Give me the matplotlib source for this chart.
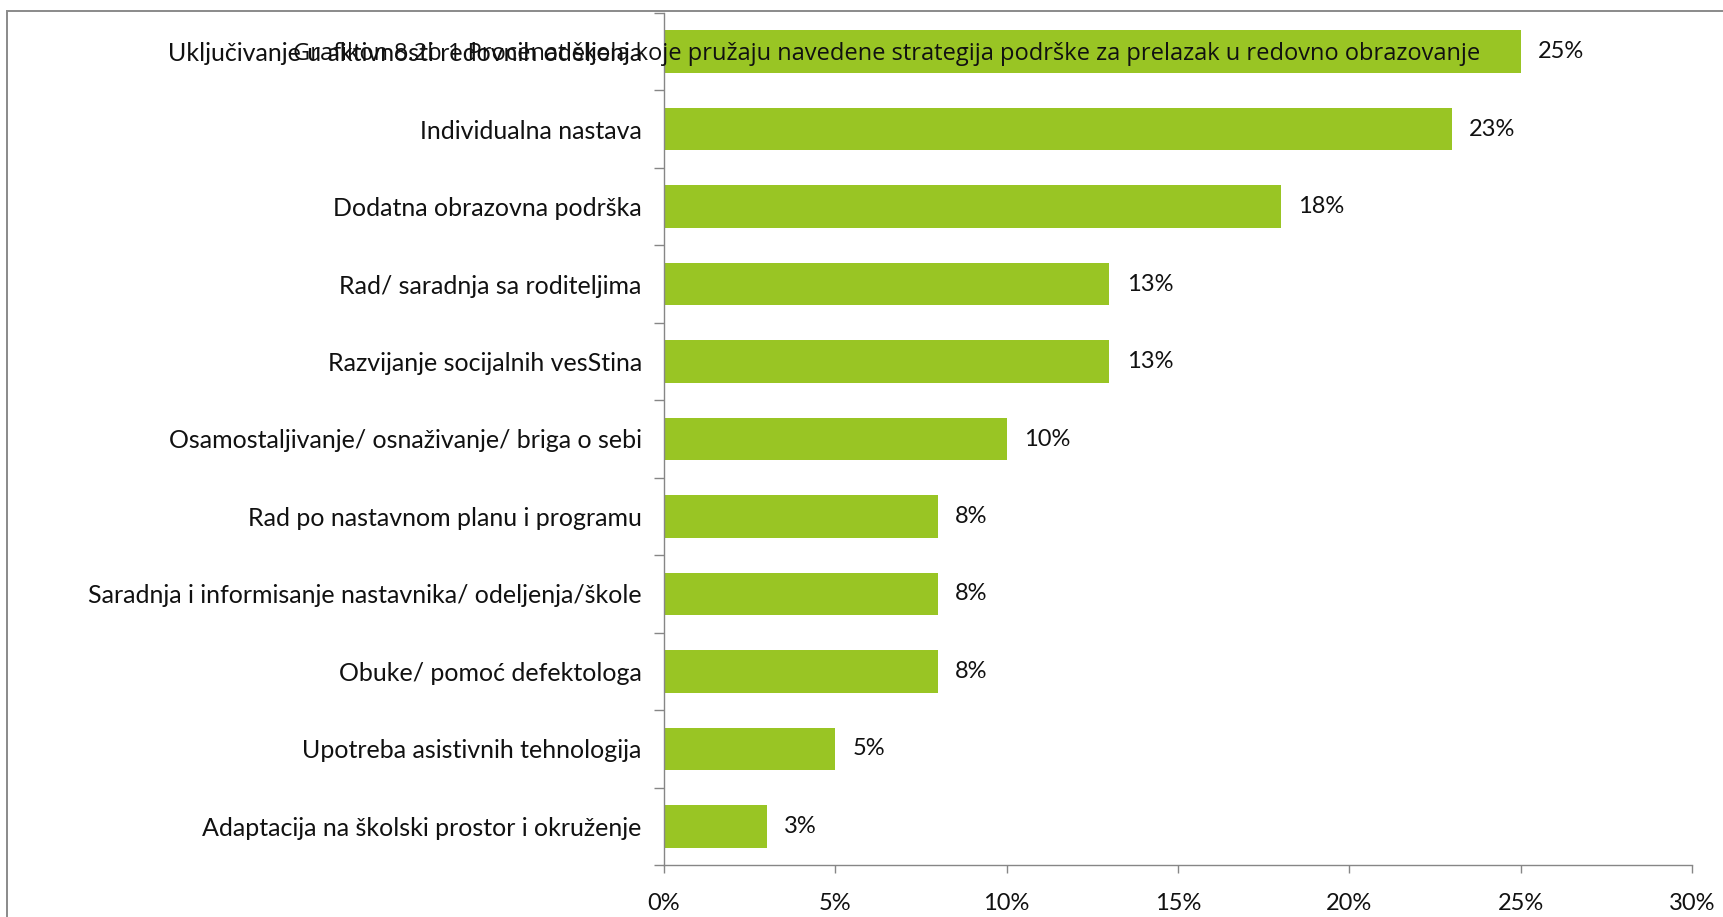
import numpy as np
import matplotlib.pyplot as plt
from matplotlib.patches import Rectangle
from matplotlib.ticker import FixedLocator, PercentFormatter

# strategije podrske, od najcesce ka najredjoj
strategies = [
    'Uključivanje u aktivnosti redovnih odeljenja',
    'Individualna nastava',
    'Dodatna obrazovna podrška',
    'Rad/ saradnja sa roditeljima',
    'Razvijanje socijalnih vesStina',
    'Osamostaljivanje/ osnaživanje/ briga o sebi',
    'Rad po nastavnom planu i programu',
    'Saradnja i informisanje nastavnika/ odeljenja/škole',
    'Obuke/ pomoć defektologa',
    'Upotreba asistivnih tehnologija',
    'Adaptacija na školski prostor i okruženje',
]
percent = [25, 23, 18, 13, 13, 10, 8, 8, 8, 5, 3]
xticks = [0, 5, 10, 15, 20, 25, 30]
title = ('Grafikon 8.2b 1 Procenat škola koje pružaju navedene strategija '
         'podrške za prelazak u redovno obrazovanje')

green = '#99c524'
gray = '#868686'
label_font = 'Lato'

fig = plt.figure(figsize=(17.24, 9.17), dpi=100)
fig.patch.set_facecolor('white')

# okvir grafikona (gornja i leva ivica)
fig.patches.append(Rectangle((7 / 1724, -0.1), 1.2, 1.1 - 11 / 917,
                             transform=fig.transFigure, fill=False,
                             edgecolor='#8a8a8a', linewidth=1.4, zorder=0))

ax = fig.add_axes([664 / 1724, 1 - 865 / 917, (1692 - 664) / 1724, (865 - 13) / 917])

y = np.arange(len(strategies))
ax.barh(y, percent, height=0.55, color=green, zorder=2)
for yi, v in zip(y, percent):
    ax.text(v + 0.5, yi, f'{v}%', va='center', ha='left',
            fontsize=17, family=label_font, color='#111111')

ax.set_xlim(0, 30)
ax.set_ylim(len(strategies) - 0.5, -0.5)
ax.set_xticks(xticks)
ax.xaxis.set_major_formatter(PercentFormatter(decimals=0))
ax.set_yticks(y)
ax.set_yticklabels(strategies, fontsize=18, family=label_font, color='#111111')
ax.yaxis.set_minor_locator(FixedLocator(np.arange(len(strategies) + 1) - 0.5))

ax.tick_params(axis='y', which='major', length=0, pad=16)
ax.tick_params(axis='y', which='minor', length=7, color=gray, width=1)
ax.tick_params(axis='x', which='major', length=6, color=gray, width=1,
               pad=14, labelsize=17, labelcolor='#111111')
for lbl in ax.get_xticklabels():
    lbl.set_family(label_font)

for side in ['top', 'right']:
    ax.spines[side].set_visible(False)
for side in ['left', 'bottom']:
    ax.spines[side].set_color(gray)
    ax.spines[side].set_linewidth(1)

fig.text(887 / 1724, 1 - 54 / 917, title, ha='center', va='center',
         fontsize=17, family='Open Sans', color='#111111')

fig.savefig('out.png', dpi=100, facecolor='white')
